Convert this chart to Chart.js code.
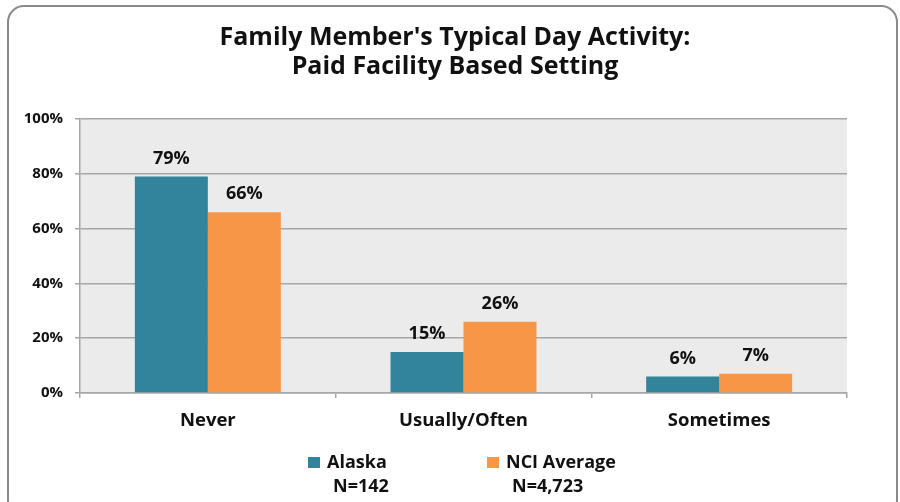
<!DOCTYPE html>
<html>
<head>
<meta charset="utf-8">
<script src="https://cdn.jsdelivr.net/npm/chart.js@4"></script>
<style>
  html, body { margin: 0; padding: 0; background: #fff; }
  #wrap { width: 900px; height: 502px; }
</style>
</head>
<body>
<div id="wrap"><canvas id="chart" width="900" height="502"></canvas></div>
<script>
// Data
const categories = ['Never', 'Usually/Often', 'Sometimes'];
const alaskaValues = [79, 15, 6];
const nciValues = [66, 26, 7];
const seriesNames = ['Alaska', 'NCI Average'];
const seriesCounts = ['N=142', 'N=4,723'];
const yTicks = [0, 20, 40, 60, 80, 100];
const titleLines = ["Family Member's Typical Day Activity:", 'Paid Facility Based Setting'];

const teal = '#31849b';
const orange = '#f79646';
const fontFamily = '"Open Sans", Lato, sans-serif';


// Frame, plot background, title
const backdrop = {
    id: 'backdrop',
    beforeDraw: chart => {
        const ctx = chart.ctx;
        const area = chart.chartArea;
        ctx.save();
        ctx.fillStyle = '#fff';
        ctx.fillRect(0, 0, chart.width, chart.height);

        ctx.strokeStyle = '#8a8a8a';
        ctx.lineWidth = 2;
        ctx.beginPath();
        ctx.roundRect(8, 6, 889, 510, 16);
        ctx.stroke();

        ctx.fillStyle = '#ebebeb';
        ctx.fillRect(area.left, area.top, area.right - area.left, area.bottom - area.top);

        ctx.fillStyle = '#111';
        ctx.font = 'bold 25px ' + fontFamily;
        ctx.textAlign = 'center';
        ctx.textBaseline = 'middle';
        titleLines.forEach((line, i) => ctx.fillText(line, 455, 38 + i * 29));
        ctx.restore();
    }
};


// Value labels above bars and the two-line legend
const labelsAndLegend = {
    id: 'labelsAndLegend',
    afterDatasetsDraw: chart => {
        const ctx = chart.ctx;
        ctx.save();
        ctx.fillStyle = '#111';
        ctx.font = 'bold 18px ' + fontFamily;
        ctx.textAlign = 'center';
        ctx.textBaseline = 'middle';
        chart.data.datasets.forEach((ds, i) => {
            chart.getDatasetMeta(i).data.forEach((bar, j) => {
                ctx.fillText(ds.data[j] + '%', bar.x, bar.y - 18);
            });
        });

        const legendX = [308, 487];
        ctx.textAlign = 'left';
        chart.data.datasets.forEach((ds, i) => {
            const x = legendX[i];
            ctx.fillStyle = ds.backgroundColor;
            ctx.fillRect(x, 457, 12, 11);
            ctx.fillStyle = '#111';
            ctx.fillText(seriesNames[i], x + 19, 463);
            ctx.fillText(seriesCounts[i], x + 25, 487);
        });
        ctx.restore();
    }
};


const ctx = document.getElementById('chart');
new Chart(ctx, {
    type: 'bar',
    data: {
        labels: categories,
        datasets: [
            { label: seriesNames[0], data: alaskaValues, backgroundColor: teal },
            { label: seriesNames[1], data: nciValues, backgroundColor: orange }
        ]
    },
    options: {
        responsive: false,
        animation: false,
        events: [],
        layout: { padding: { left: 0, top: 119, right: 53, bottom: 0 } },
        datasets: {
            bar: { categoryPercentage: 0.571, barPercentage: 1.0 }
        },
        scales: {
            x: {
                afterFit: s => { s.height = 109; },
                grid: { display: true, drawOnChartArea: false, drawTicks: true, tickLength: 5, color: '#a6a6a6', lineWidth: 1.5 },
                border: { color: '#a6a6a6', width: 1.5 },
                ticks: { color: '#111', padding: 12, font: { family: fontFamily, size: 18.5, weight: 'bold' } }
            },
            y: {
                min: 0,
                max: 100,
                afterFit: s => { s.width = 80; },
                afterBuildTicks: s => { s.ticks = yTicks.map(v => ({ value: v })); },
                grid: { color: '#a6a6a6', lineWidth: 1.5, tickLength: 5 },
                border: { color: '#a6a6a6', width: 1.5 },
                ticks: {
                    color: '#111',
                    padding: 12,
                    font: { family: fontFamily, size: 15, weight: 'bold' },
                    callback: v => v + '%'
                }
            }
        },
        plugins: {
            legend: { display: false },
            title: { display: false },
            tooltip: { enabled: false }
        }
    },
    plugins: [backdrop, labelsAndLegend]
});
</script>
</body>
</html>
